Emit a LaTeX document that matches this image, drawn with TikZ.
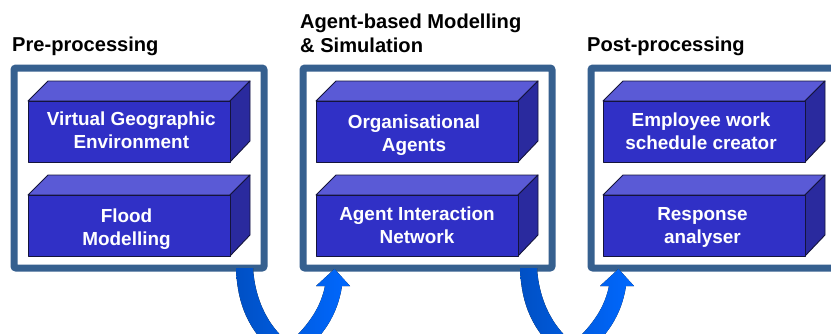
\documentclass[tikz,border=0pt]{standalone}
\usepackage{fontspec}
\setmainfont{Liberation Sans}
\definecolor{framecol}{HTML}{36608F}
\definecolor{frontcol}{HTML}{3030C6}
\definecolor{topcol}{HTML}{5A5AD6}
\definecolor{sidecol}{HTML}{2A2A9E}
\definecolor{edgecol}{HTML}{14143C}
\definecolor{arrowdark}{HTML}{0050C4}
\definecolor{arrowlight}{HTML}{0068FF}
\tikzset{
  x=1pt,y=-1pt,
  framebox/.style={draw=framecol,line width=7pt,fill=white,rounded corners=2pt},
  face/.style={draw=edgecol,line width=0.9pt,line join=round},
  boxlabel/.style={text=white,font=\fontsize{18.9}{23}\selectfont\bfseries,align=center,inner sep=0pt},
  titlelabel/.style={text=black,font=\fontsize{20.1}{24}\selectfont\bfseries,align=left,anchor=west,inner sep=0pt},
  flow/.style={left color=arrowdark,right color=arrowlight,draw=none}
}
\newcommand{\cuboid}[6]{% name, x, y(front top), text, text dy, text dx
  \draw[face,fill=topcol] (#2,#3) -- (#2+20,#3-20) -- (#2+222,#3-20) -- (#2+202,#3) -- cycle;
  \draw[face,fill=sidecol] (#2+202,#3) -- (#2+222,#3-20) -- (#2+222,#3+40) -- (#2+202,#3+61) -- cycle;
  \node[face,fill=frontcol,minimum width=202pt,minimum height=61pt,anchor=north west,inner sep=0pt] (#1) at (#2,#3) {};
  \node[boxlabel] (#1text) at (#2+101+#6,#3+#5) {#4};
}
\begin{document}
\begin{tikzpicture}
\useasboundingbox (0,0) rectangle (831,333);
\clip (0,0) rectangle (831,333);
\fill[white] (0,0) rectangle (831,333);
\node[titlelabel] (t1) at (12,46.5) {Pre-processing};
\node[titlelabel] (t2) at (300,33) {Agent-based Modelling\\[0pt]\& Simulation};
\node[titlelabel] (t3) at (587,46.5) {Post-processing};
\draw[framebox] (14,68) rectangle (264,268);
\draw[framebox] (303,68) rectangle (552,268);
\draw[framebox] (591,68) rectangle (850,268);
\cuboid{a}{28}{101}{Virtual Geographic\\Environment}{29}{2.3}
\cuboid{b}{28}{195}{Flood\\Modelling}{34.5}{-2.5}
\cuboid{c}{316}{101}{Organisational\\Agents}{34}{-3}
\cuboid{d}{316}{195}{Agent Interaction\\Network}{30.5}{0}
\cuboid{e}{603}{101}{Employee work\\schedule creator}{30.5}{-3}
\cuboid{f}{603}{195}{Response\\analyser}{32.5}{-1.5}
\foreach \o in {0,284}{
  \fill[flow,shift={(\o,0)}] (236,268) .. controls (237,296) and (244,326) .. (272,350)
     -- (306,350) .. controls (326,332) and (338,312) .. (342,286)
     -- (350,286) -- (334.5,269) -- (316,286) -- (325,286)
     .. controls (321,306) and (310,324) .. (289,343)
     .. controls (268,326) and (255,300) .. (253,268) -- cycle;
}
\end{tikzpicture}
\end{document}
